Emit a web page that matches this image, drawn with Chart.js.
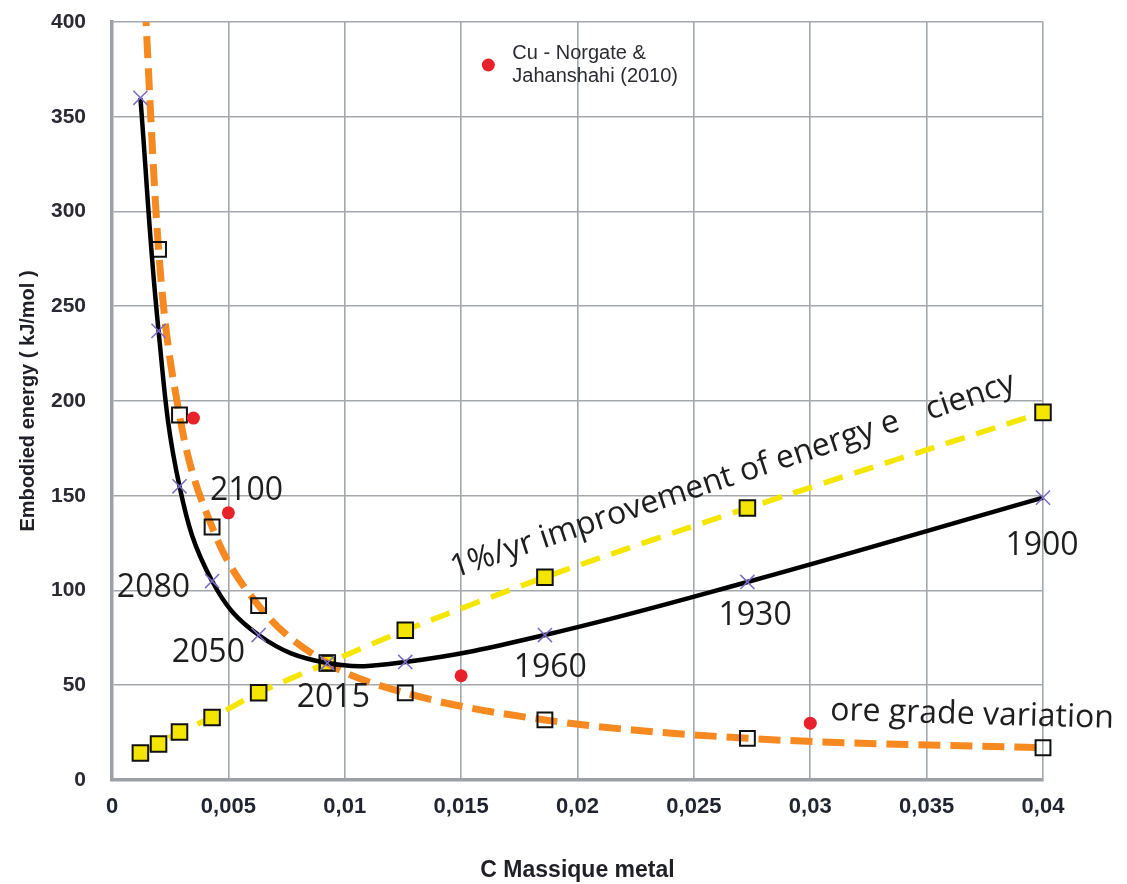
<!DOCTYPE html>
<html><head><meta charset="utf-8">
<script src="https://cdn.jsdelivr.net/npm/chart.js@4/dist/chart.umd.min.js"></script>
<style>html,body{margin:0;padding:0;background:#fff}#wrap{width:1127px;height:884px;position:relative}</style>
</head><body><div id="wrap"><canvas id="c"></canvas></div>
<script>
// ---- data ----
const massX            = [0.00122, 0.0020, 0.0029, 0.0043, 0.0063, 0.00925, 0.0126, 0.0186, 0.0273, 0.0400];
const embodiedEnergy   = [360, 237, 155, 105, 76.5, 61.7, 62.3, 76.5, 104.5, 149];
const oreGradeEnergy   = [460, 280, 192.6, 133.5, 92, 61.7, 46, 31.7, 22, 17];
const efficiencyEnergy = [14.2, 19, 25.3, 33, 46, 61.7, 79, 107, 143.5, 194];
const norgateX = [0.0035, 0.0050, 0.0150, 0.0300];
const norgateY = [191, 141, 55, 30];
const xTickValues = [0, 0.005, 0.01, 0.015, 0.02, 0.025, 0.03, 0.035, 0.04];
const xTickLabels = ['0', '0,005', '0,01', '0,015', '0,02', '0,025', '0,03', '0,035', '0,04'];
const yTickValues = [0, 50, 100, 150, 200, 250, 300, 350, 400];
const yTickLabels = ['0', '50', '100', '150', '200', '250', '300', '350', '400'];
const yearLabels = ['2100', '2080', '2050', '2015', '1960', '1930', '1900'];
const legendLines = ['Cu - Norgate &', 'Jahanshahi (2010)'];

// annotation anchors (data coordinates)
const yearAnchors = [
  [0.00578, 147.8], [0.00178, 96.6], [0.00414, 62.3], [0.00951, 38.5],
  [0.01883, 54.4], [0.02763, 81.8], [0.03996, 118.7]
];
const efficiencyText = {a: '1%/yr improvement of energy e', b: 'ciency', x: 0.01471, y: 106.6, angle: -18.4};
const oreText = {t: 'ore grade variation', x: 0.03085, y: 31.7, angle: 1.6};

const pts = (xs, ys) => xs.map((x, i) => ({x, y: ys[i]}));

const annot = {
  id: 'annot',
  afterDatasetsDraw(chart) {
    const {ctx, scales: {x, y}} = chart;
    ctx.save();
    ctx.fillStyle = '#1e1e1e';
    ctx.font = '32px "Open Sans"';
    ctx.textAlign = 'center';
    ctx.textBaseline = 'alphabetic';
    yearLabels.forEach((t, i) => {
      ctx.fillText(t, x.getPixelForValue(yearAnchors[i][0]), y.getPixelForValue(yearAnchors[i][1]));
    });
    ctx.textAlign = 'left';
    ctx.save();
    ctx.translate(x.getPixelForValue(efficiencyText.x), y.getPixelForValue(efficiencyText.y));
    ctx.rotate(efficiencyText.angle * Math.PI / 180);
    ctx.fillText(efficiencyText.a, 0, 0);
    const w = ctx.measureText(efficiencyText.a).width + ctx.measureText('ffi').width;
    ctx.fillText(efficiencyText.b, w, 0);
    ctx.restore();
    ctx.save();
    ctx.translate(x.getPixelForValue(oreText.x), y.getPixelForValue(oreText.y));
    ctx.rotate(oreText.angle * Math.PI / 180);
    ctx.fillText(oreText.t, 0, 0);
    ctx.restore();
    // legend
    const lx = x.getPixelForValue(0.01617), ly = y.getPixelForValue(377.3);
    ctx.fillStyle = '#e8212b';
    ctx.beginPath(); ctx.arc(lx, ly, 6.5, 0, Math.PI * 2); ctx.fill();
    ctx.fillStyle = '#2b2b33';
    ctx.font = '20px "Liberation Sans", Arial, sans-serif';
    ctx.textBaseline = 'middle';
    ctx.fillText(legendLines[0], lx + 24, ly - 12);
    ctx.fillText(legendLines[1], lx + 24, ly + 11);
    ctx.restore();
  }
};

new Chart(document.getElementById('c'), {
  type: 'scatter',
  data: {
    datasets: [
      {
        label: 'Cu - Norgate & Jahanshahi (2010)',
        data: pts(norgateX, norgateY),
        pointStyle: 'circle', pointRadius: 6.5, pointBackgroundColor: '#e8212b', pointBorderWidth: 0,
        showLine: false, clip: false
      },
      {
        label: 'embodied',
        data: pts(massX, embodiedEnergy),
        showLine: true, borderColor: '#000', borderWidth: 4.5, tension: 0.4,
        pointStyle: 'crossRot', pointRadius: 10, pointBorderColor: '#7b6cc9', pointBorderWidth: 1.5,
        pointBackgroundColor: 'transparent', clip: false
      },
      {
        label: 'ore grade',
        data: pts(massX, oreGradeEnergy),
        showLine: true, borderColor: '#f6891f', borderWidth: 7, borderDash: [22, 10],
        cubicInterpolationMode: 'monotone',
        pointStyle: 'rect', pointRadius: 10.5, pointBorderColor: '#111', pointBorderWidth: 2,
        pointBackgroundColor: 'rgba(255,255,255,0)',
        clip: {left: false, right: false, top: 0, bottom: false}
      },
      {
        label: 'efficiency',
        data: pts(massX, efficiencyEnergy),
        showLine: true, borderColor: '#f5e600', borderWidth: 5.5, borderDash: [20, 12],
        tension: 0.3,
        pointStyle: 'rect', pointRadius: 11, pointBorderColor: '#111', pointBorderWidth: 2,
        pointBackgroundColor: '#f3e500', clip: false
      }
    ]
  },
  options: {
    responsive: true, maintainAspectRatio: false, animation: false,
    layout: {padding: {top: 22, right: 84, left: 0, bottom: 0}},
    plugins: {legend: {display: false}, tooltip: {enabled: false}},
    scales: {
      x: {
        type: 'linear', min: 0, max: 0.04,
        afterBuildTicks(s) { s.ticks = xTickValues.map(v => ({value: v})); },
        afterFit(s) { s.height = 104; s.paddingLeft = 0; s.paddingRight = 0; },
        ticks: {
          callback(v, i) { return xTickLabels[i]; },
          font: {family: '"Liberation Sans", Arial', size: 22, weight: 'bold'},
          color: '#1f2430', padding: 14, maxRotation: 0, autoSkip: false
        },
        grid: {color: '#a3a8ad', lineWidth: 1.6, drawTicks: false},
        border: {display: true, color: '#9ca0a5', width: 3.5},
        title: {display: true, text: 'C Massique metal', color: '#1f1f28',
          font: {family: '"Liberation Sans", Arial', size: 23, weight: 'bold'}, padding: {top: 0, bottom: 0}}
      },
      y: {
        type: 'linear', min: 0, max: 400,
        afterBuildTicks(s) { s.ticks = yTickValues.map(v => ({value: v})); },
        afterFit(s) { s.width = 112; s.paddingTop = 0; s.paddingBottom = 0; },
        ticks: {
          callback(v, i) { return yTickLabels[i]; },
          font: {family: '"Liberation Sans", Arial', size: 21, weight: 'bold'},
          color: '#2a2a33', padding: 26, autoSkip: false
        },
        grid: {color: '#a3a8ad', lineWidth: 1.6, drawTicks: false},
        border: {display: true, color: '#9ca0a5', width: 3.5},
        title: {display: true, text: 'Embodied energy ( kJ/mol )', color: '#1f1f28',
          font: {family: '"Liberation Sans", Arial', size: 20, weight: 'bold'}, padding: {top: 16, bottom: 0}}
      }
    }
  },
  plugins: [annot]
});
</script></body></html>
